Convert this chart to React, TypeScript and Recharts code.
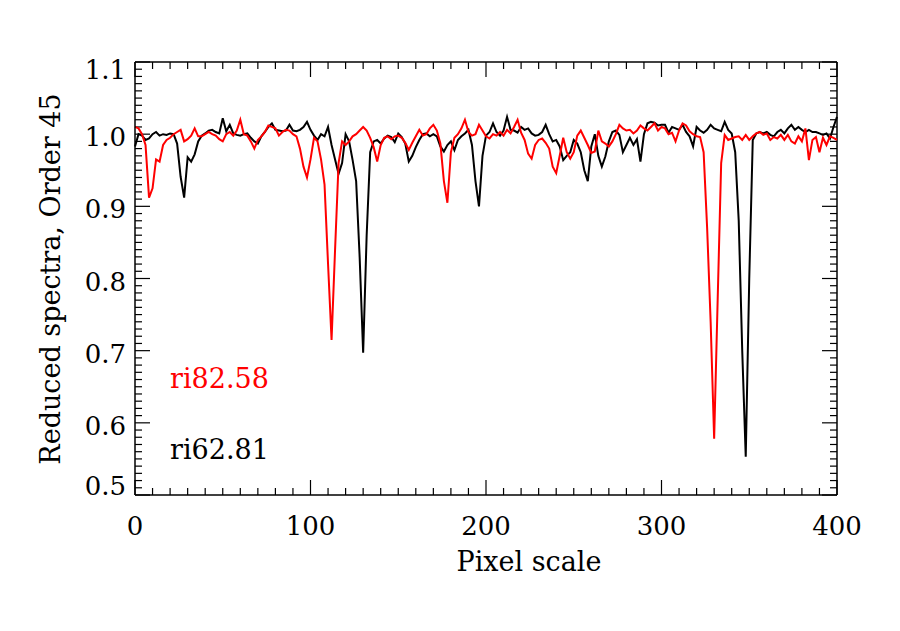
import { LineChart, Line, XAxis, YAxis, ReferenceLine } from 'recharts';

// spectra sampled every 2 pixels, 0..400
const PIXEL_STEP = 2;

const ri8258 = [
  1.010, 1.008, 1.000, 0.985, 0.912, 0.925, 0.965, 0.962, 0.985, 0.992,
  0.995, 1.000, 1.003, 1.006, 0.990, 0.993, 0.998, 1.008, 0.997, 0.997,
  1.000, 1.003, 1.000, 0.998, 0.993, 0.990, 1.000, 1.003, 0.998, 1.005,
  1.020, 1.000, 0.998, 0.990, 0.980, 0.992, 0.997, 1.003, 1.012, 1.010,
  1.008, 0.998, 1.003, 1.006, 1.005, 1.000, 0.997, 0.980, 0.955, 0.940,
  0.965, 0.995, 0.990, 0.965, 0.930, 0.820, 0.715, 0.840, 0.960, 0.990,
  0.985, 0.990, 0.997, 1.000, 1.005, 1.010, 1.005, 0.995, 0.982, 0.962,
  0.985, 0.995, 0.997, 0.993, 0.997, 0.998, 0.995, 0.988, 0.978, 0.988,
  0.997, 1.006, 0.998, 1.000, 1.008, 1.013, 1.005, 0.987, 0.935, 0.905,
  0.975, 0.995, 1.000, 1.008, 1.020, 1.003, 0.998, 1.000, 1.013, 1.005,
  0.997, 0.994, 1.000, 0.998, 1.003, 0.998, 1.006, 1.001, 1.010, 1.020,
  1.002, 0.992, 0.973, 0.966, 0.985, 0.992, 0.994, 0.988, 0.980, 0.955,
  0.946, 0.970, 0.995, 0.975, 0.966, 0.975, 0.998, 1.005, 0.995, 0.985,
  0.974, 0.976, 1.005, 0.990, 0.987, 0.983, 0.990, 1.000, 1.013, 1.008,
  1.005, 1.006, 1.001, 1.005, 1.012, 1.008, 1.005, 1.010, 1.015, 1.005,
  1.010, 1.008, 1.000, 1.002, 0.990, 1.005, 1.015, 1.012, 1.004, 1.000,
  0.997, 0.996, 0.975, 0.870, 0.740, 0.578, 0.770, 0.960, 0.999, 0.992,
  0.994, 0.996, 0.997, 0.992, 0.999, 0.992, 0.997, 1.001, 1.003, 0.999,
  1.001, 0.992, 0.996, 0.994, 0.999, 0.992, 0.999, 0.990, 0.987, 0.997,
  0.990, 1.008, 0.964, 0.992, 0.996, 0.975, 0.995, 0.985, 0.997, 0.995,
  0.992,
];

const ri6281 = [
  0.983, 1.000, 0.998, 0.992, 0.994, 1.000, 1.003, 0.998, 1.000, 0.999,
  1.001, 1.000, 0.987, 0.941, 0.912, 0.968, 0.962, 0.972, 0.990, 0.998,
  1.001, 1.005, 1.006, 1.003, 1.001, 1.022, 1.004, 1.013, 1.001, 0.999,
  0.998, 1.000, 1.001, 0.995, 0.990, 0.987, 0.997, 1.003, 1.010, 1.015,
  1.006, 1.005, 1.004, 1.005, 1.013, 1.005, 1.004, 1.006, 1.010, 1.017,
  1.006, 0.998, 0.992, 1.000, 0.997, 1.010, 0.985, 0.965, 0.945, 0.960,
  1.000, 0.990, 0.964, 0.935, 0.830, 0.697, 0.860, 0.975, 0.990, 0.992,
  0.987, 0.994, 0.998, 0.996, 0.989, 1.001, 0.996, 0.987, 0.962, 0.970,
  0.982, 0.992, 1.000, 1.001, 0.997, 1.000, 0.997, 0.983, 0.976, 0.985,
  0.990, 0.978, 0.992, 0.997, 1.001, 1.006, 0.985, 0.935, 0.900, 0.970,
  0.998, 1.003, 1.015, 1.003, 0.998, 1.005, 1.024, 1.006, 1.005, 1.002,
  1.010, 1.006, 1.008, 1.001, 0.998, 0.999, 1.003, 1.013, 1.000, 0.990,
  0.992, 0.983, 0.964, 0.970, 0.975, 0.992, 0.987, 0.975, 0.950, 0.935,
  0.983, 1.000, 0.970, 0.955, 0.969, 0.990, 1.003, 1.005, 0.999, 0.975,
  0.985, 0.995, 0.985, 0.993, 0.962, 1.000, 1.015, 1.017, 1.016, 1.012,
  1.013, 1.013, 1.002, 1.010, 1.008, 1.006, 1.013, 1.003, 0.997, 0.983,
  1.010, 1.005, 1.002, 1.006, 1.013, 1.008, 1.006, 1.004, 1.017, 1.006,
  1.001, 0.975, 0.880, 0.700, 0.553, 0.800, 0.992, 1.001, 1.003, 1.001,
  1.003, 0.999, 0.997, 1.003, 1.006, 1.001, 1.008, 1.013, 1.006, 1.010,
  1.006, 1.003, 1.006, 1.003, 1.003, 1.001, 0.999, 1.001, 0.994, 1.010,
  1.024,
];

const xMajorTicks = [0, 100, 200, 300, 400];
const yMajorTicks = [0.5, 0.6, 0.7, 0.8, 0.9, 1.0, 1.1];
const X_MINOR = 10;
const Y_MINOR = 0.01;

const X_MIN = 0;
const X_MAX = 400;
const Y_MIN = 0.5;
const Y_MAX = 1.1;

// tick lengths expressed in data units (plot is 702 x 433 px)
const X_UNIT_PX = 702 / (X_MAX - X_MIN);
const Y_UNIT_PX = 433 / (Y_MAX - Y_MIN);
const MAJOR_LEN = 15;
const MINOR_LEN = 7;

const data = ri8258.map((v, i) => ({ pixel: i * PIXEL_STEP, red: v, black: ri6281[i] }));

const xTicks: number[] = [];
for (let v = X_MIN; v <= X_MAX; v += X_MINOR) xTicks.push(v);
const yTicks: number[] = [];
for (let i = 0; i <= Math.round((Y_MAX - Y_MIN) / Y_MINOR); i++) {
  yTicks.push(+(Y_MIN + i * Y_MINOR).toFixed(2));
}

const FONT = '"DejaVu Serif", serif';
const isMajorX = (v: number) => xMajorTicks.includes(v);
const isMajorY = (v: number) => yMajorTicks.some((m) => Math.abs(m - v) < 1e-6);

const XLabel = ({ x, y, payload }: any) =>
  isMajorX(payload.value) ? (
    <text x={x} y={y + 40} textAnchor="middle" fontFamily={FONT} fontSize={26} fill="#000">
      {payload.value}
    </text>
  ) : (
    <g />
  );

const YLabel = ({ x, y, payload }: any) => {
  const v = payload.value;
  if (!isMajorY(v)) return <g />;
  // edge labels are nudged inside the frame
  let dy = 12;
  if (Math.abs(v - Y_MAX) < 1e-6) dy = 17;
  if (Math.abs(v - Y_MIN) < 1e-6) dy = 0;
  return (
    <text x={x - 9} y={y + dy} textAnchor="end" fontFamily={FONT} fontSize={26} fill="#000">
      {v.toFixed(1)}
    </text>
  );
};

const axisLine = { stroke: '#000', strokeWidth: 1.5 };
const tickStroke = { stroke: '#000', strokeWidth: 1.2 };

export default function App() {
  const tickMarks: JSX.Element[] = [];
  xTicks.forEach((v) => {
    const len = (isMajorX(v) ? MAJOR_LEN : MINOR_LEN) / Y_UNIT_PX;
    tickMarks.push(
      <ReferenceLine key={`xb${v}`} xAxisId="x" yAxisId="y" segment={[{ x: v, y: Y_MIN }, { x: v, y: Y_MIN + len }]} {...tickStroke} />,
      <ReferenceLine key={`xt${v}`} xAxisId="x" yAxisId="y" segment={[{ x: v, y: Y_MAX }, { x: v, y: Y_MAX - len }]} {...tickStroke} />,
    );
  });
  yTicks.forEach((v) => {
    const len = (isMajorY(v) ? MAJOR_LEN : MINOR_LEN) / X_UNIT_PX;
    tickMarks.push(
      <ReferenceLine key={`yl${v}`} xAxisId="x" yAxisId="y" segment={[{ x: X_MIN, y: v }, { x: X_MIN + len, y: v }]} {...tickStroke} />,
      <ReferenceLine key={`yr${v}`} xAxisId="x" yAxisId="y" segment={[{ x: X_MAX, y: v }, { x: X_MAX - len, y: v }]} {...tickStroke} />,
    );
  });

  return (
    <div style={{ position: 'absolute', left: 0, top: 0, width: 900, height: 631, background: '#fff' }}>
      <LineChart width={900} height={631} data={data} margin={{ top: 62, right: 63, bottom: 96, left: 60 }}>
        <XAxis
          xAxisId="x"
          dataKey="pixel"
          type="number"
          domain={[X_MIN, X_MAX]}
          ticks={xTicks}
          interval={0}
          height={40}
          tickSize={0}
          tickMargin={0}
          tickLine={false}
          axisLine={axisLine}
          tick={(p: any) => <XLabel {...p} />}
        />
        <YAxis
          yAxisId="y"
          type="number"
          domain={[Y_MIN, Y_MAX]}
          ticks={yTicks}
          interval={0}
          width={75}
          tickSize={0}
          tickMargin={0}
          tickLine={false}
          axisLine={axisLine}
          tick={(p: any) => <YLabel {...p} />}
        />
        <ReferenceLine xAxisId="x" yAxisId="y" y={Y_MAX} stroke="#000" strokeWidth={1.5} />
        <ReferenceLine xAxisId="x" yAxisId="y" x={X_MAX} stroke="#000" strokeWidth={1.5} />
        {tickMarks}
        <Line
          xAxisId="x"
          yAxisId="y"
          dataKey="black"
          stroke="#000000"
          strokeWidth={2}
          dot={false}
          isAnimationActive={false}
        />
        <Line
          xAxisId="x"
          yAxisId="y"
          dataKey="red"
          stroke="#ff0000"
          strokeWidth={2}
          dot={false}
          isAnimationActive={false}
        />
      </LineChart>
      <svg width={900} height={631} style={{ position: 'absolute', left: 0, top: 0, pointerEvents: 'none' }}>
        <text x={529} y={571} textAnchor="middle" fontFamily={FONT} fontSize={27} fill="#000">
          Pixel scale
        </text>
        <text
          transform="translate(60, 279) rotate(-90)"
          textAnchor="middle"
          fontFamily={FONT}
          fontSize={27}
          fill="#000"
        >
          Reduced spectra, Order 45
        </text>
        <text x={170} y={388} fontFamily={FONT} fontSize={27} fill="#ff0000">
          ri82.58
        </text>
        <text x={170} y={459} fontFamily={FONT} fontSize={27} fill="#000">
          ri62.81
        </text>
      </svg>
    </div>
  );
}
